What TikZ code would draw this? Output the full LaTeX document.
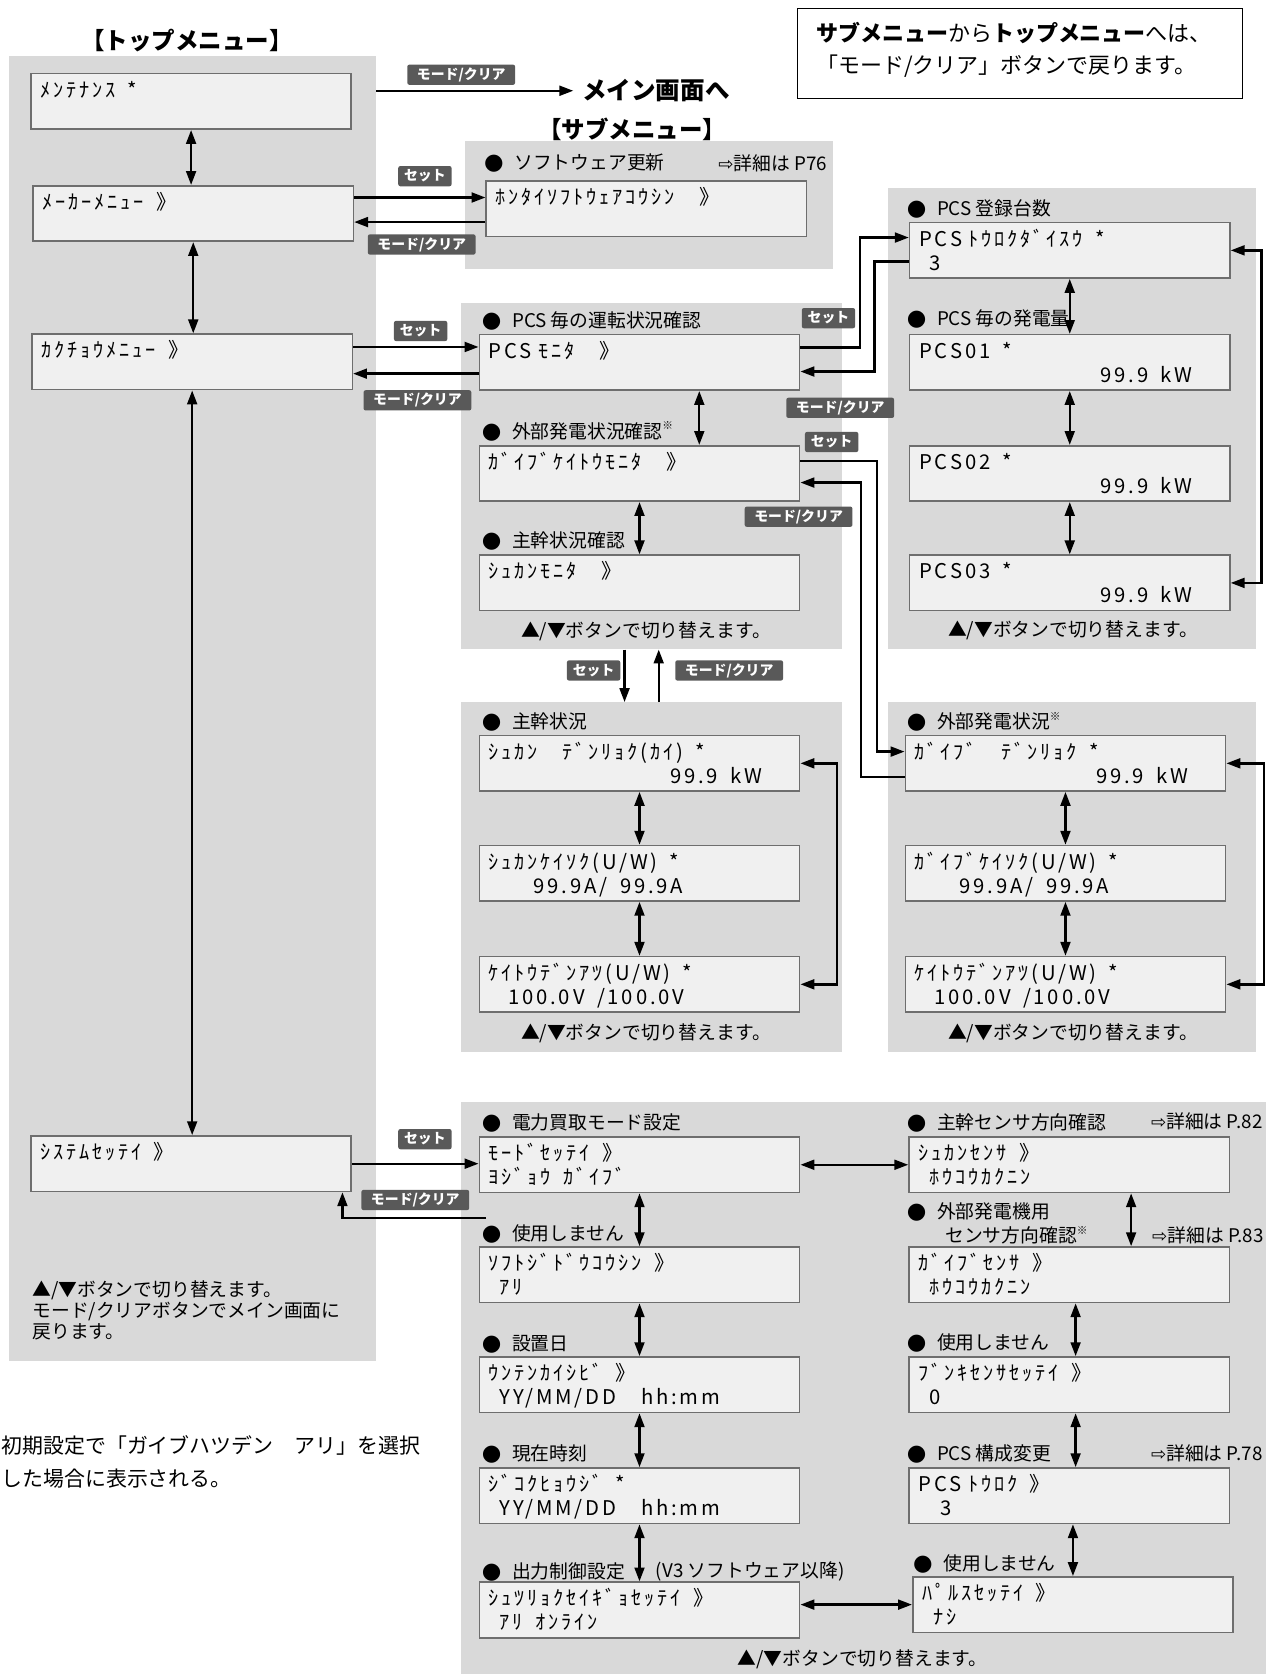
\documentclass[tikz,border=0pt]{standalone}
\usepackage{fontspec}
\setmainfont{Noto Sans CJK JP}
\newfontfamily\lcdfont[LetterSpace=14]{Noto Sans CJK JP}
\newfontfamily\arrowfont{DejaVu Sans}
\usetikzlibrary{arrows.meta,fit}
\definecolor{panelgrey}{HTML}{D9D9D9}
\definecolor{lcdfill}{HTML}{F0F0F0}
\definecolor{lcdline}{HTML}{6E6E6E}
\definecolor{tagfill}{HTML}{595959}
\newcommand{\lcdlines}[2]{\rule{0pt}{10.8pt}#1\\\strut#2}
\newcommand{\cell}{\hspace*{5.8pt}}
\newcommand{\bul}{{\arrowfont\fontsize{10.5pt}{10pt}\selectfont ●}\hspace{5pt}}
\newcommand{\kome}{\raisebox{0.45em}{\fontsize{5pt}{5pt}\selectfont ※}}
\newcommand{\detail}[1]{{\arrowfont\fontsize{8.5pt}{8.5pt}\selectfont ⇨}詳細は #1}
\newcommand{\kw}{\hfill 99.9\cell kW\hspace*{13pt}\mbox{}}
\begin{document}
\begin{tikzpicture}[x=0.5pt, y=-0.5pt, >={Triangle[length=6.5pt,width=4.6pt]},
    panel/.style={fill=panelgrey, inner sep=0pt},
    lcd/.style={draw=lcdline, line width=0.75pt, fill=lcdfill, text width=141pt, inner xsep=4.5pt, inner ysep=0pt,
      minimum height=26pt, align=left, font=\lcdfont\fontsize{9.5pt}{11.2pt}\selectfont},
    lbl/.style={anchor=west, inner sep=0pt, font=\fontsize{8.8pt}{10pt}\selectfont},
    hint/.style={inner sep=0pt, font=\fontsize{8.8pt}{10pt}\selectfont},
    setkey/.style={fill=tagfill, text=white, rounded corners=1pt, inner sep=0pt,
      minimum width=25pt, minimum height=9.5pt, font=\bfseries\fontsize{6.5pt}{7pt}\selectfont},
    clearkey/.style={setkey, minimum width=50.5pt},
    fwd/.style={line width=1.1pt, ->},
    twoway/.style={line width=1.1pt, <->},
    heading/.style={inner sep=0pt, font=\bfseries\fontsize{11pt}{12pt}\selectfont}]
  \useasboundingbox (0,0) rectangle (1195,1568);

  % 背景のパネル
  \node[panel, fit={(8,52) (352,1275)}] (toppanel) {};
  \node[panel, fit={(436,132) (780,252)}] (panA) {};
  \node[panel, fit={(432,284) (789,608)}] (panB) {};
  \node[panel, fit={(832,176) (1176,608)}] (panC) {};
  \node[panel, fit={(432,658) (789,985)}] (panD) {};
  \node[panel, fit={(832,658) (1176,985)}] (panE) {};
  \node[panel, fit={(432,1032) (1186,1568)}] (panF) {};

  % 見出し
  \node[heading] (toptitle) at (175,38) {【トップメニュー】};
  \node[heading] (subtitle) at (592,121) {【サブメニュー】};
  \node[heading, anchor=west, inner xsep=4pt, font=\bfseries\fontsize{11.5pt}{12pt}\selectfont] (mainscr) at (537,85) {メイン画面へ};
  \node[draw, line width=0.65pt, inner sep=0pt, fit={(747,8) (1164,92)}] (notebox) {};
  \node[anchor=west, align=left, inner sep=0pt, font=\fontsize{10.3pt}{15pt}\selectfont] (notetext) at (764,47)
    {{\bfseries サブメニュー}から{\bfseries トップメニュー}へは、\\「モード/クリア」ボタンで戻ります。};

  % トップメニュー
  \node[lcd] (top1) at (179,95) {\lcdlines{ﾒﾝﾃﾅﾝｽ\cell*}{}};
  \node[lcd] (top2) at (181,200) {\lcdlines{ﾒｰｶｰﾒﾆｭｰ\cell》}{}};
  \node[lcd] (top3) at (180,339) {\lcdlines{ｶｸﾁｮｳﾒﾆｭｰ\cell》}{}};
  \node[lcd] (top4) at (179,1090) {\lcdlines{ｼｽﾃﾑｾｯﾃｲ\cell》}{}};
  \node[anchor=north west, align=left, inner sep=0pt, font=\fontsize{8.8pt}{9.8pt}\selectfont] (toplegend) at (30,1199)
    {▲/▼ボタンで切り替えます。\\モード/クリアボタンでメイン画面に\\戻ります。};
  \node[anchor=west, inner sep=0pt, font=\fontsize{9.8pt}{10pt}\selectfont] (note1) at (1,1354) {初期設定で「ガイブハツデン　アリ」を選択};
  \node[anchor=west, inner sep=0pt, font=\fontsize{9.8pt}{10pt}\selectfont] (note2) at (1,1385) {した場合に表示される。};

  % ソフトウェア更新
  \node[lbl] (hA1) at (453,153) {\bul ソフトウェア更新};
  \node[lbl, anchor=east] (dA1) at (775,153) {\detail{P76}};
  \node[lcd] (soft) at (605.5,195.5) {\lcdlines{ﾎﾝﾀｲｿﾌﾄｳｪｱｺｳｼﾝ\cell\cell》}{}};

  % 計測メニュー
  \node[lbl] (hB1) at (451,301) {\bul PCS 毎の運転状況確認};
  \node[lcd] (pcsmon) at (599,339.5) {\lcdlines{PCS ﾓﾆﾀ\cell\cell》}{}};
  \node[lbl] (hB2) at (451,404) {\bul 外部発電状況確認\kome};
  \node[lcd] (gaimon) at (599,443.5) {\lcdlines{ｶﾞｲﾌﾞｹｲﾄｳﾓﾆﾀ\cell\cell》}{}};
  \node[lbl] (hB3) at (451,507) {\bul 主幹状況確認};
  \node[lcd] (shumon) at (599,546) {\lcdlines{ｼｭｶﾝﾓﾆﾀ\cell\cell》}{}};
  \node[hint] (fB) at (605,591) {▲/▼ボタンで切り替えます。};

  % PCS
  \node[lbl] (hC1) at (849,196) {\bul PCS 登録台数};
  \node[lcd] (pcsnum) at (1002,234.5) {\lcdlines{PCS ﾄｳﾛｸﾀﾞｲｽｳ\cell*}{\hspace*{5pt}3}};
  \node[lbl] (hC2) at (849,299) {\bul PCS 毎の発電量};
  \node[lcd] (pcs01) at (1002,339.5) {\lcdlines{PCS01\cell*}{\kw}};
  \node[lcd] (pcs02) at (1002,443.5) {\lcdlines{PCS02\cell*}{\kw}};
  \node[lcd] (pcs03) at (1002,546) {\lcdlines{PCS03\cell*}{\kw}};
  \node[hint] (fC) at (1005,590) {▲/▼ボタンで切り替えます。};

  % 主幹状況
  \node[lbl] (hD1) at (451,676) {\bul 主幹状況};
  \node[lcd] (shupow) at (599,715) {\lcdlines{ｼｭｶﾝ\cell\cell ﾃﾞﾝﾘｮｸ(ｶｲ)\cell*}{\kw}};
  \node[lcd] (shucur) at (599,818) {\lcdlines{ｼｭｶﾝｹｲｿｸ(U/W)\cell*}{\hspace*{21pt}99.9A/\cell 99.9A}};
  \node[lcd] (shuvolt) at (599,922) {\lcdlines{ｹｲﾄｳﾃﾞﾝｱﾂ(U/W)\cell*}{\hspace*{9pt}100.0V\cell/100.0V}};
  \node[hint] (fD) at (605,968) {▲/▼ボタンで切り替えます。};

  % 外部発電状況
  \node[lbl] (hE1) at (849,676) {\bul 外部発電状況\kome};
  \node[lcd] (gaipow) at (998,715) {\lcdlines{ｶﾞｲﾌﾞ\cell\cell ﾃﾞﾝﾘｮｸ\cell*}{\kw}};
  \node[lcd] (gaicur) at (998,818) {\lcdlines{ｶﾞｲﾌﾞｹｲｿｸ(U/W)\cell*}{\hspace*{21pt}99.9A/\cell 99.9A}};
  \node[lcd] (gaivolt) at (998,922) {\lcdlines{ｹｲﾄｳﾃﾞﾝｱﾂ(U/W)\cell*}{\hspace*{9pt}100.0V\cell/100.0V}};
  \node[hint] (fE) at (1005,968) {▲/▼ボタンで切り替えます。};

  % システム設定
  \node[lbl] (hF1) at (451,1052) {\bul 電力買取モード設定};
  \node[lcd] (mode) at (599,1091) {\lcdlines{ﾓｰﾄﾞｾｯﾃｲ\cell》}{ﾖｼﾞｮｳ\cell ｶﾞｲﾌﾞ}};
  \node[lbl] (hF2) at (451,1156) {\bul 使用しません};
  \node[lcd] (softauto) at (599,1194) {\lcdlines{ｿﾌﾄｼﾞﾄﾞｳｺｳｼﾝ\cell》}{\hspace*{5pt}ｱﾘ}};
  \node[lbl] (hF3) at (451,1259) {\bul 設置日};
  \node[lcd] (start) at (599,1297) {\lcdlines{ｳﾝﾃﾝｶｲｼﾋﾞ\cell》}{\hspace*{5pt}YY/MM/DD\cell\cell hh:mm}};
  \node[lbl] (hF4) at (451,1362) {\bul 現在時刻};
  \node[lcd] (clock) at (599,1401) {\lcdlines{ｼﾞｺｸﾋｮｳｼﾞ\cell*}{\hspace*{5pt}YY/MM/DD\cell\cell hh:mm}};
  \node[lbl] (hF5) at (451,1472) {\bul 出力制御設定};
  \node[lbl] (vthree) at (614,1472) {(V3 ソフトウェア以降)};
  \node[lcd] (outctl) at (599,1508) {\lcdlines{ｼｭﾂﾘｮｸｾｲｷﾞｮｾｯﾃｲ\cell》}{\hspace*{5pt}ｱﾘ\cell ｵﾝﾗｲﾝ}};
  \node[lbl] (hF6) at (849,1052) {\bul 主幹センサ方向確認};
  \node[lbl, anchor=east] (dF6) at (1183,1050) {\detail{P.82}};
  \node[lcd] (shusen) at (1001.5,1091) {\lcdlines{ｼｭｶﾝｾﾝｻ\cell》}{\hspace*{5pt}ﾎｳｺｳｶｸﾆﾝ}};
  \node[lbl] (hF7) at (849,1135) {\bul 外部発電機用};
  \node[lbl] (hF7b) at (885,1157) {センサ方向確認\kome};
  \node[lbl, anchor=east] (dF7) at (1184,1157) {\detail{P.83}};
  \node[lcd] (gaisen) at (1001.5,1194) {\lcdlines{ｶﾞｲﾌﾞｾﾝｻ\cell》}{\hspace*{5pt}ﾎｳｺｳｶｸﾆﾝ}};
  \node[lbl] (hF8) at (849,1258) {\bul 使用しません};
  \node[lcd] (branch) at (1001.5,1297) {\lcdlines{ﾌﾞﾝｷｾﾝｻｾｯﾃｲ\cell》}{\hspace*{5pt}0}};
  \node[lbl] (hF9) at (849,1362) {\bul PCS 構成変更};
  \node[lbl, anchor=east] (dF9) at (1183,1361) {\detail{P.78}};
  \node[lcd] (pcsreg) at (1001.5,1401) {\lcdlines{PCS ﾄｳﾛｸ\cell》}{\hspace*{10pt}3}};
  \node[lbl] (hF10) at (855,1465) {\bul 使用しません};
  \node[lcd] (pulse) at (1005,1503) {\lcdlines{ﾊﾟﾙｽｾｯﾃｲ\cell》}{\hspace*{5pt}ﾅｼ}};
  \node[hint] (fF) at (808,1554) {▲/▼ボタンで切り替えます。};

  % トップメニューの矢印
  \draw[twoway] (top1.south) -- (top1.south |- top2.north);
  \draw[twoway] (top2.south) -- (top2.south |- top3.north);
  \draw[twoway] (top3.south) -- (top3.south |- top4.north);
  \draw[fwd] (toppanel.east |- mainscr.west) -- (mainscr.west);

  % トップ → サブ
  \draw[fwd] ([yshift=7.5pt]top2.east) -- ([yshift=7.5pt]top2.east -| soft.west);
  \draw[fwd] ([yshift=-4pt]top2.east -| soft.west) -- ([yshift=-4pt]top2.east);
  \draw[fwd] ([yshift=7pt]top3.east) -- ([yshift=7pt]top3.east -| pcsmon.west);
  \draw[fwd] ([yshift=-5.5pt]top3.east -| pcsmon.west) -- ([yshift=-5.5pt]top3.east);
  \draw[fwd] (top4.east) -- (top4.east -| mode.west);
  \draw[fwd] ([xshift=3.5pt,yshift=-11.5pt]mode.south west) -| ([xshift=-4.5pt]top4.south east);

  % 計測メニューの中
  \draw[twoway] ([xshift=28pt]pcsmon.south) -- ([xshift=28pt]gaimon.north);
  \draw[twoway] (gaimon.south) -- (shumon.north);
  \draw[fwd] ([yshift=7pt]pcsmon.east) -- ++(28pt,0) |- ([yshift=6pt]pcsnum.west);
  \draw[fwd] ([yshift=-5.25pt]pcsnum.west) -- ++(-16pt,0) |- ([yshift=-4.25pt]pcsmon.east);
  \draw[fwd] ([yshift=5.75pt]gaimon.east) -- ++(36pt,0) |- ([yshift=5.5pt]gaipow.west);
  \draw[fwd] ([yshift=-6.5pt]gaipow.west) -- ++(-20.5pt,0) |- ([yshift=-4.25pt]gaimon.east);
  \draw[fwd] ([xshift=-12.75pt]panB.south) -- ([xshift=-12.75pt]panD.north);
  \draw[fwd] ([xshift=3.25pt]panD.north) -- ([xshift=3.25pt]panB.south);

  % PCS
  \draw[twoway] (pcsnum.south) -- (pcs01.north);
  \draw[twoway] (pcs01.south) -- (pcs02.north);
  \draw[twoway] (pcs02.south) -- (pcs03.north);
  \draw[twoway] (pcsnum.east) -- ++(14.5pt,0) |- (pcs03.east);

  % 主幹・外部発電
  \draw[twoway] (shupow.south) -- (shucur.north);
  \draw[twoway] (shucur.south) -- (shuvolt.north);
  \draw[twoway] (shupow.east) -- ++(17pt,0) |- (shuvolt.east);
  \draw[twoway] (gaipow.south) -- (gaicur.north);
  \draw[twoway] (gaicur.south) -- (gaivolt.north);
  \draw[twoway] (gaipow.east) -- ++(17.5pt,0) |- (gaivolt.east);

  % システム設定の中
  \draw[twoway] (mode.east) -- (mode.east -| shusen.west);
  \draw[twoway] (mode.south) -- (softauto.north);
  \draw[twoway] (softauto.south) -- (start.north);
  \draw[twoway] (start.south) -- (clock.north);
  \draw[twoway] (clock.south) -- (outctl.north);
  \draw[twoway] ([xshift=29pt]shusen.south) -- ([xshift=29pt]gaisen.north);
  \draw[twoway] ([xshift=3pt]gaisen.south) -- ([xshift=3pt]branch.north);
  \draw[twoway] ([xshift=3pt]branch.south) -- ([xshift=3pt]pcsreg.north);
  \draw[twoway] ([xshift=1.75pt]pcsreg.south) -- ([xshift=1.75pt]pcsreg.south |- pulse.north);
  \draw[twoway] (outctl.east |- pulse.west) -- (pulse.west);

  % ボタン
  \node[clearkey] (key0) at (432,70) {モード/クリア};
  \node[setkey] (set1) at (398,165) {セット};
  \node[clearkey] (key1) at (395,229) {モード/クリア};
  \node[setkey] (set2) at (394,310) {セット};
  \node[clearkey] (key2) at (391,375) {モード/クリア};
  \node[setkey] (set3) at (776,298) {セット};
  \node[clearkey] (key3) at (787,382) {モード/クリア};
  \node[setkey] (set4) at (779,414) {セット};
  \node[clearkey] (key4) at (748,484) {モード/クリア};
  \node[setkey] (set5) at (556,628) {セット};
  \node[clearkey] (key5) at (683,628) {モード/クリア};
  \node[setkey] (set6) at (398,1067) {セット};
  \node[clearkey] (key6) at (389,1124) {モード/クリア};
\end{tikzpicture}
\end{document}
